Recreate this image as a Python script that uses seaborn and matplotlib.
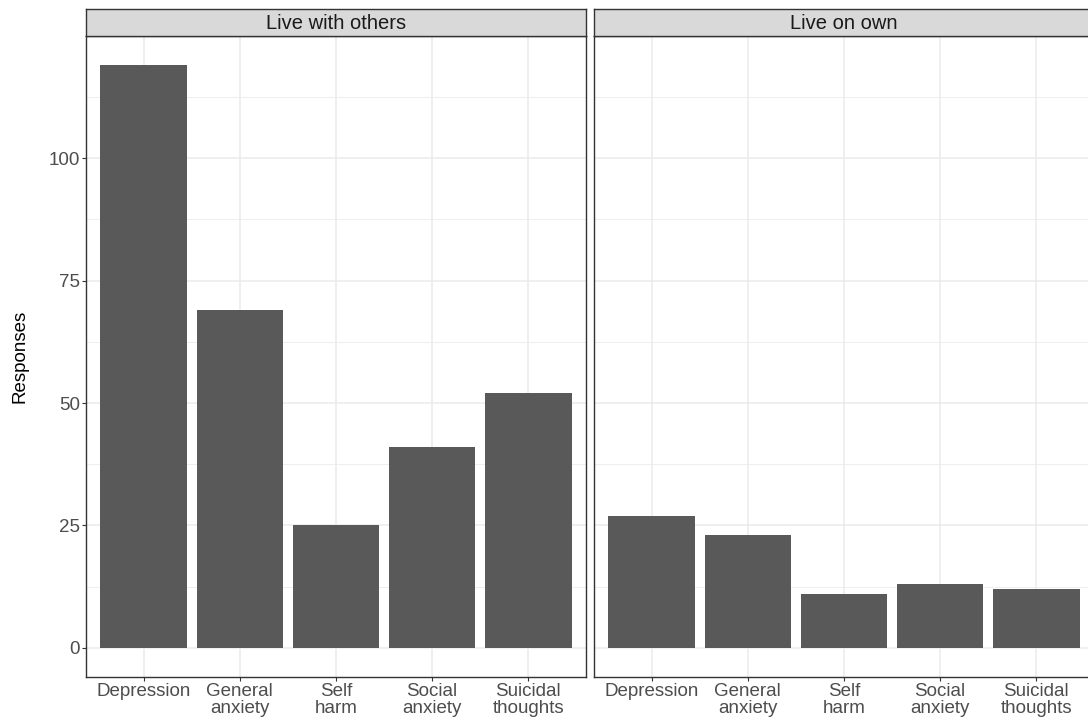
import matplotlib
matplotlib.use("Agg")
import matplotlib.pyplot as plt
from matplotlib.ticker import FixedLocator
import seaborn as sns
import pandas as pd

categories = ["Depression", "General\nanxiety", "Self\nharm", "Social\nanxiety", "Suicidal\nthoughts"]
live_with_others = [119, 69, 25, 41, 52]
live_on_own = [27, 23, 11, 13, 12]
panels = ["Live with others", "Live on own"]
y_major = [0, 25, 50, 75, 100]
y_minor = [12.5, 37.5, 62.5, 87.5, 112.5]

sns.set_theme(style="white")
plt.rcParams['font.family'] = ['Liberation Sans', 'DejaVu Sans']

df = pd.DataFrame({
    "living": [panels[0]] * len(categories) + [panels[1]] * len(categories),
    "condition": categories * 2,
    "responses": live_with_others + live_on_own,
})

W, H = 1088, 722
fig = plt.figure(figsize=(W / 100, H / 100), dpi=100)
fig.patch.set_facecolor("white")

def fx(px):
    return px / W

def fy(py):
    return 1 - py / H

panel_x = [86, 594]
panel_w = 500
top, bottom = 36, 677
strip_top = 9

ymax_val = max(live_with_others + live_on_own)
pad = ymax_val * 0.05

for i, (name, x0) in enumerate(zip(panels, panel_x)):
    ax = fig.add_axes([fx(x0), fy(bottom), panel_w / W, (bottom - top) / H])
    sub = df[df["living"] == name]
    sns.barplot(data=sub, x="condition", y="responses", order=categories,
                color="#595959", saturation=1, width=0.9, ax=ax,
                edgecolor="none", linewidth=0, errorbar=None)
    ax.set_xlim(-0.6, len(categories) - 0.4)
    ax.set_ylim(-pad, ymax_val + pad)
    ax.yaxis.set_major_locator(FixedLocator(y_major))
    ax.yaxis.set_minor_locator(FixedLocator(y_minor))
    ax.set_axisbelow(True)
    ax.grid(True, which="major", axis="both", color="#EBEBEB", linewidth=1.1)
    ax.grid(True, which="minor", axis="y", color="#EBEBEB", linewidth=0.6)
    for s in ax.spines.values():
        s.set_visible(True)
        s.set_color("#333333")
        s.set_linewidth(1.0)
    ax.set_xlabel("")
    ax.set_ylabel("")
    ax.tick_params(axis="x", which="major", bottom=True, length=3, width=0.8,
                   color="#333333", pad=1.5, labelsize=13.5, labelcolor="#4D4D4D")
    for lab in ax.get_xticklabels():
        lab.set_linespacing(1.0)
        lab.set_verticalalignment("top")
    if i == 0:
        ax.tick_params(axis="y", which="major", left=True, length=3, width=0.8,
                       color="#333333", pad=1.5, labelsize=13.5, labelcolor="#4D4D4D")
        ax.tick_params(axis="y", which="minor", left=False)
    else:
        ax.tick_params(axis="y", which="both", left=False, labelleft=False)

    sax = fig.add_axes([fx(x0), fy(top), panel_w / W, (top - strip_top) / H])
    sax.set_facecolor("#D9D9D9")
    sax.set_xticks([])
    sax.set_yticks([])
    for s in sax.spines.values():
        s.set_visible(True)
        s.set_color("#333333")
        s.set_linewidth(1.0)
    sax.text(0.5, 0.45, name, ha="center", va="center", fontsize=14.5,
             color="#1A1A1A", transform=sax.transAxes)

fig.text(fx(20), fy((top + bottom) / 2), "Responses", rotation=90,
         ha="center", va="center", fontsize=13.5, color="black")

fig.savefig("out.png", dpi=100, facecolor="white")
